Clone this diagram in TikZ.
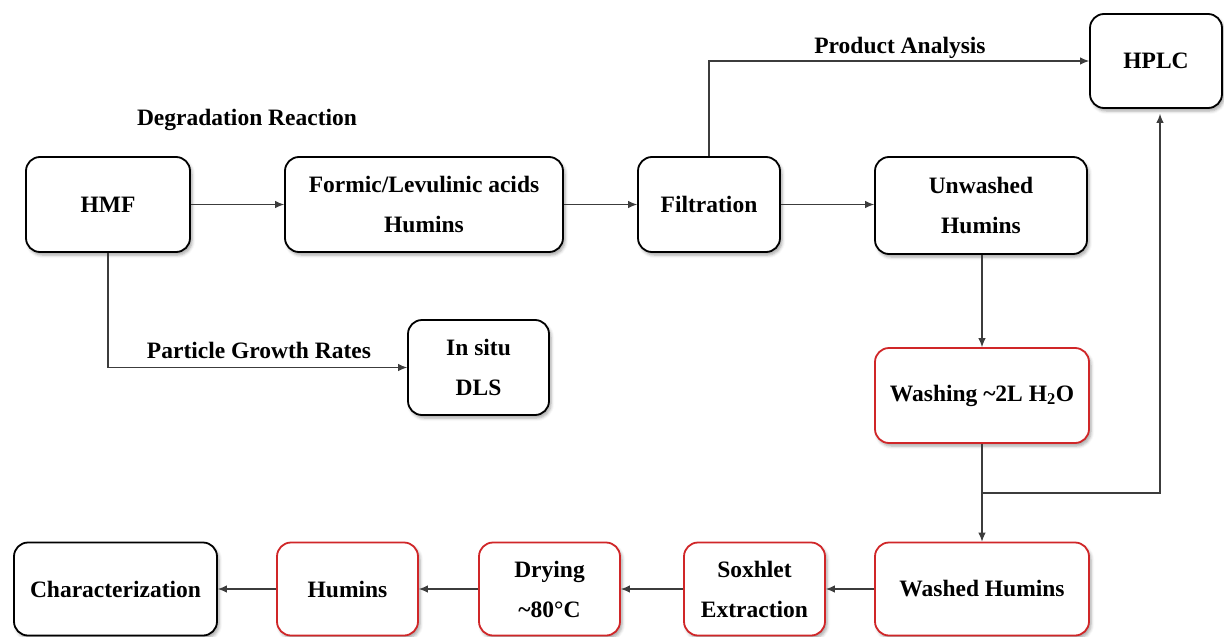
\documentclass[tikz,border=0pt]{standalone}
\usepackage{fontspec}
\setmainfont{Liberation Serif}
\usetikzlibrary{arrows.meta,shadows.blur}
\definecolor{boxred}{RGB}{208,38,40}
\definecolor{linegray}{RGB}{60,60,60}
\tikzset{
  box/.style={draw=black, line width=1.8pt, rounded corners=14pt, fill=white,
    minimum height=95pt, inner sep=0pt, align=center,
    font=\fontsize{23.5}{40}\selectfont\bfseries,
    blur shadow={shadow xshift=2pt, shadow yshift=-3pt, shadow blur radius=3pt, shadow opacity=35}},
  redbox/.style={box, draw=boxred},
  conn/.style={draw=linegray, line width=1.1pt, -{Latex[length=9pt,width=7.5pt]}},
  lbl/.style={font=\fontsize{23.5}{28}\selectfont\bfseries, inner sep=0pt}
}
\begin{document}
\begin{tikzpicture}[x=1pt,y=-1pt]
\useasboundingbox (0,0) rectangle (1224,637);
% row 1
\node[box, minimum width=164pt] (hmf) at (108,204.5) {HMF};
\node[box, minimum width=278pt] (formic) at (424,204.5) {Formic/Levulinic acids\\Humins};
\node[box, minimum width=142pt] (filt) at (709,204.5) {Filtration};
\node[box, minimum width=212pt, minimum height=97pt] (unw) at (981,205.5) {Unwashed\\Humins};
\node[box, minimum width=132pt, minimum height=94pt] (hplc) at (1156,61) {HPLC};
\node[box, minimum width=141pt] (dls) at (478.5,367.5) {In situ\\DLS};
% red column
\node[redbox, minimum width=214pt] (wash) at (982,395.5) {Washing \textasciitilde2L H\textsubscript{2}O};
% bottom row
\node[redbox, minimum width=214pt, minimum height=93pt] (washed) at (982,589) {Washed Humins};
\node[redbox, minimum width=141pt, minimum height=93pt] (sox) at (754.5,589) {Soxhlet\\Extraction};
\node[redbox, minimum width=141pt, minimum height=93pt] (dry) at (549.5,589) {Drying\\\textasciitilde80°C};
\node[redbox, minimum width=141pt, minimum height=93pt] (hum) at (347.5,589) {Humins};
\node[box, minimum width=203pt, minimum height=93pt] (char) at (115.5,589) {Characterization};
% labels
\node[lbl] (ldeg) at (247,120) {Degradation Reaction};
\node[lbl] (lprod) at (900,48) {Product Analysis};
\node[lbl] (lpart) at (259,350) {Particle Growth Rates};
% connectors
\draw[conn] (hmf.east) -- (formic.west);
\draw[conn] (formic.east) -- (filt.west);
\draw[conn] (filt.east) -- (filt.east -| unw.west);
\draw[conn] (filt.north) |- (hplc.west);
\draw[conn] (hmf.south) |- (dls.west);
\draw[conn] (unw.south -| wash.north) -- (wash.north);
\draw[conn] (wash.south) -- (washed.north);
\coordinate (hp) at ([xshift=4pt]hplc.south);
\draw[conn, shorten >=5pt] (wash.south |- 0,493) -| (hp);
\draw[conn] (washed.west) -- (sox.east);
\draw[conn] (sox.west) -- (dry.east);
\draw[conn] (dry.west) -- (hum.east);
\draw[conn] (hum.west) -- (char.east);
\end{tikzpicture}
\end{document}
